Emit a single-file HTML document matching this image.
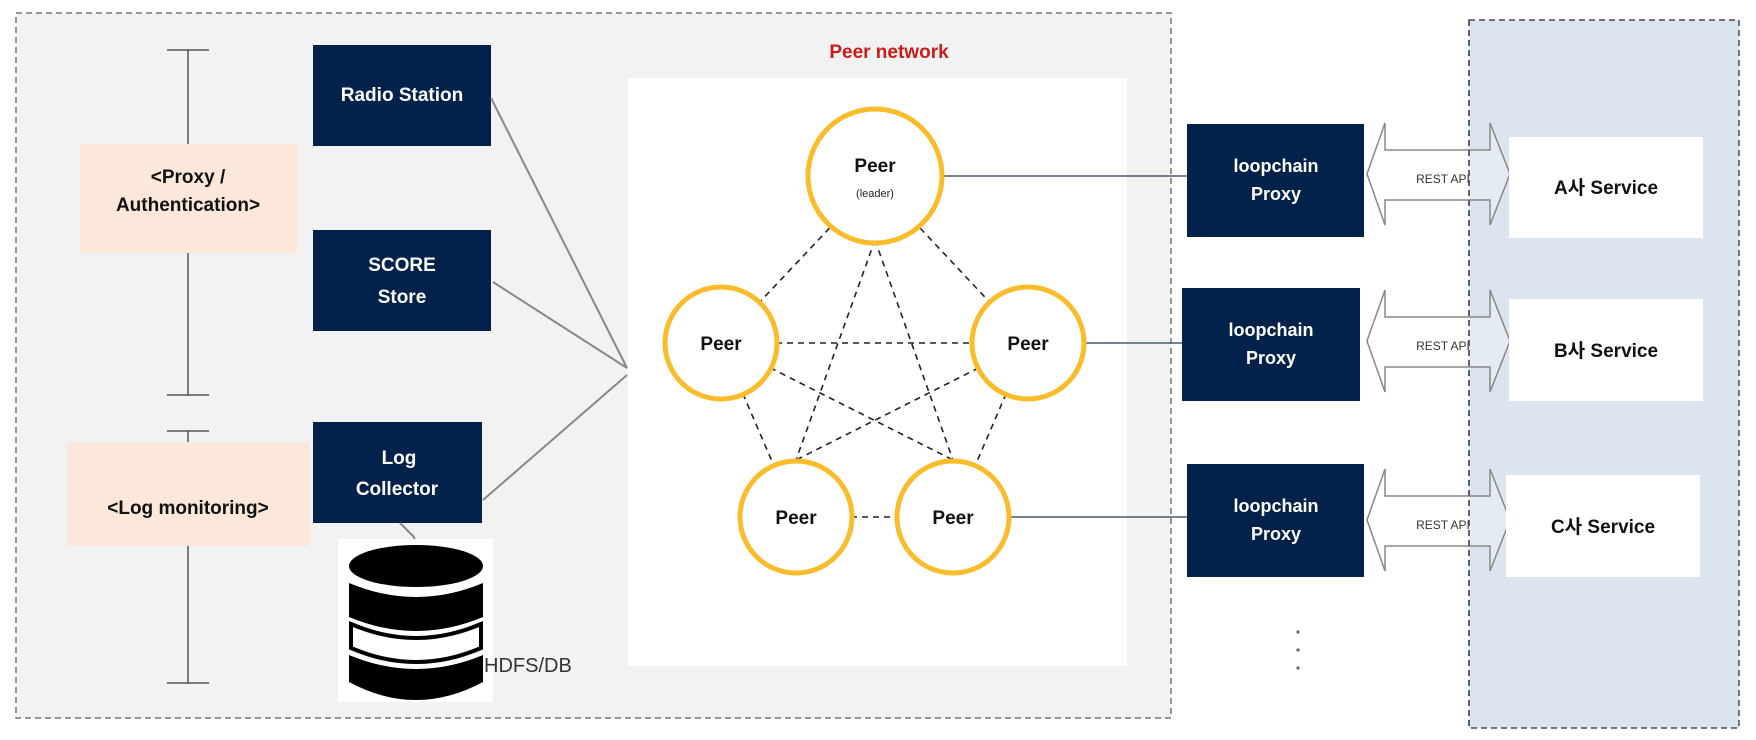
<!DOCTYPE html>
<html><head><meta charset="utf-8"><style>
html,body{margin:0;padding:0;background:#fff;}
svg{display:block;}
text{font-family:"Liberation Sans","Noto Sans CJK KR",sans-serif;}
</style></head><body>
<svg width="1756" height="740" viewBox="0 0 1756 740" xmlns="http://www.w3.org/2000/svg">
<rect x="0" y="0" width="1756" height="740" fill="#fff"/>
<rect x="16" y="13" width="1155" height="705" fill="#f2f2f2" stroke="#777" stroke-width="1.5" stroke-dasharray="6,4"/>
<rect x="1469" y="20" width="270" height="708" fill="#dce5ef" stroke="#444c5c" stroke-width="1.5" stroke-dasharray="6,4"/>

<g stroke="#555" stroke-width="1.5">
<line x1="188" y1="50" x2="188" y2="395"/><line x1="167" y1="50" x2="209" y2="50"/><line x1="167" y1="395" x2="209" y2="395"/>
<line x1="188" y1="431" x2="188" y2="683"/><line x1="167" y1="431" x2="209" y2="431"/><line x1="167" y1="683" x2="209" y2="683"/>
</g>
<rect x="80" y="144" width="217" height="109" fill="#fce8da"/>
<text x="188" y="183" font-size="19" font-weight="bold" text-anchor="middle" fill="#111">&lt;Proxy /</text>
<text x="188" y="211" font-size="19" font-weight="bold" text-anchor="middle" fill="#111">Authentication&gt;</text>
<rect x="67" y="442" width="243" height="104" fill="#fce8da"/>
<text x="188" y="514" font-size="19" font-weight="bold" text-anchor="middle" fill="#111">&lt;Log monitoring&gt;</text>

<rect x="313" y="45" width="178" height="101" fill="#02224b"/>
<text x="402" y="101" font-size="19" font-weight="bold" text-anchor="middle" fill="#fff">Radio Station</text>
<rect x="313" y="230" width="178" height="101" fill="#02224b"/>
<text x="402" y="271" font-size="19" font-weight="bold" text-anchor="middle" fill="#fff">SCORE</text>
<text x="402" y="303" font-size="19" font-weight="bold" text-anchor="middle" fill="#fff">Store</text>
<rect x="313" y="422" width="169" height="101" fill="#02224b"/>
<text x="399" y="464" font-size="19" font-weight="bold" text-anchor="middle" fill="#fff">Log</text>
<text x="397" y="495" font-size="19" font-weight="bold" text-anchor="middle" fill="#fff">Collector</text>

<g stroke="#888" stroke-width="2" fill="none">
<line x1="491" y1="98" x2="627" y2="368"/>
<line x1="493" y1="282" x2="627" y2="368"/>
<line x1="483" y1="500" x2="627" y2="375"/>
<polyline points="400,523 414,537 415,542"/>
</g>

<!-- DB -->
<rect x="338" y="539" width="155" height="163" fill="#fff"/>
<g fill="#000">
<ellipse cx="416" cy="566" rx="67" ry="21"/>
<path d="M349,583 Q416,611 483,583 L483,617 Q416,645 349,617 Z"/>
<path d="M349,655 Q416,683 483,655 L483,682 Q416,718 349,682 Z"/>
</g>
<path d="M351,624 Q416,652 481,624 L481,648 Q416,676 351,648 Z" fill="#fff" stroke="#000" stroke-width="4"/>
<text x="484" y="672" font-size="20" fill="#333">HDFS/DB</text>

<text x="889" y="58" font-size="19" font-weight="bold" text-anchor="middle" fill="#cc1a1a">Peer network</text>
<rect x="628" y="78" width="499" height="588" fill="#fff"/>

<g stroke="#222" stroke-width="1.6" stroke-dasharray="6,5" fill="none">
<line x1="875" y1="180" x2="721" y2="343"/>
<line x1="875" y1="180" x2="1028" y2="343"/>
<line x1="721" y1="343" x2="1028" y2="343"/>
<line x1="721" y1="343" x2="796" y2="517"/>
<line x1="1028" y1="343" x2="953" y2="517"/>
<line x1="796" y1="517" x2="953" y2="517"/>
<line x1="875" y1="240" x2="796" y2="460"/>
<line x1="875" y1="240" x2="953" y2="460"/>
<line x1="721" y1="343" x2="953" y2="460"/>
<line x1="1028" y1="343" x2="796" y2="460"/>
</g>
<g stroke="#4a5a70" stroke-width="1.5">
<line x1="943" y1="176" x2="1190" y2="176"/>
<line x1="1085" y1="343" x2="1185" y2="343"/>
<line x1="1010" y1="517" x2="1190" y2="517"/>
</g>
<g fill="#fff" stroke="#fbbc2c" stroke-width="5">
<circle cx="875" cy="176" r="67"/>
<circle cx="721" cy="343" r="56"/>
<circle cx="1028" cy="343" r="56"/>
<circle cx="796" cy="517" r="56"/>
<circle cx="953" cy="517" r="56"/>
</g>
<g font-size="19" font-weight="bold" text-anchor="middle" fill="#111">
<text x="875" y="172">Peer</text>
<text x="721" y="350">Peer</text>
<text x="1028" y="350">Peer</text>
<text x="796" y="524">Peer</text>
<text x="953" y="524">Peer</text>
</g>
<text x="875" y="197" font-size="11" text-anchor="middle" fill="#222">(leader)</text>

<g fill="#02224b">
<rect x="1187" y="124" width="177" height="113"/>
<rect x="1182" y="288" width="178" height="113"/>
<rect x="1187" y="464" width="177" height="113"/>
</g>
<g font-size="18" font-weight="bold" text-anchor="middle" fill="#fff">
<text x="1276" y="172">loopchain</text><text x="1276" y="200">Proxy</text>
<text x="1271" y="336">loopchain</text><text x="1271" y="364">Proxy</text>
<text x="1276" y="512">loopchain</text><text x="1276" y="540">Proxy</text>
</g>

<g fill="#fff" fill-opacity="0.25" stroke="#888" stroke-width="1.5">
<path d="M1367,174 L1385,123 L1385,150 L1490,150 L1490,123 L1510,174 L1490,225 L1490,200 L1385,200 L1385,225 Z"/>
<path d="M1367,341 L1385,290 L1385,317 L1490,317 L1490,290 L1510,341 L1490,392 L1490,367 L1385,367 L1385,392 Z"/>
<path d="M1367,520 L1385,469 L1385,496 L1490,496 L1490,469 L1510,520 L1490,571 L1490,546 L1385,546 L1385,571 Z"/>
</g>
<g font-size="12" text-anchor="middle" fill="#333">
<text x="1443" y="183">REST API</text>
<text x="1443" y="350">REST API</text>
<text x="1443" y="529">REST API</text>
</g>
<line x1="1469" y1="20" x2="1469" y2="728" stroke="#444c5c" stroke-width="1.5" stroke-dasharray="6,4"/>

<g fill="#fff">
<rect x="1509" y="137" width="194" height="101"/>
<rect x="1509" y="299" width="194" height="102"/>
<rect x="1506" y="475" width="194" height="102"/>
</g>
<g font-size="19" font-weight="bold" text-anchor="middle" fill="#111">
<text x="1606" y="194">A사 Service</text>
<text x="1606" y="357">B사 Service</text>
<text x="1603" y="533">C사 Service</text>
</g>

<g fill="#666">
<circle cx="1298" cy="632" r="1.6"/><circle cx="1298" cy="650" r="1.6"/><circle cx="1298" cy="668" r="1.6"/>
</g>
</svg>
</body></html>
